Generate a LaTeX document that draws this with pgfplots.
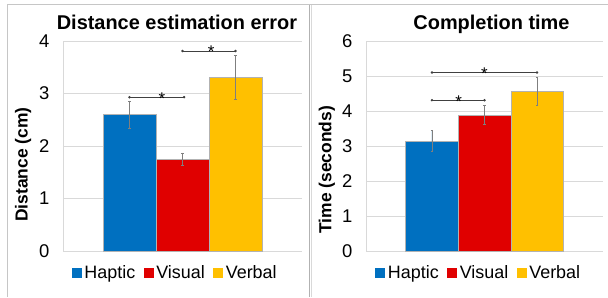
\documentclass[border=0pt]{standalone}
\usepackage{fontspec}
\setmainfont{Liberation Sans}
\usepackage{pgfplots}
\pgfplotsset{compat=1.18}
\definecolor{cblue}{HTML}{0070C0}
\definecolor{cred}{HTML}{E00000}
\definecolor{cyellow}{HTML}{FFC000}
\definecolor{gridc}{HTML}{D9D9D9}
\definecolor{errc}{HTML}{7F7F7F}
\definecolor{brc}{HTML}{404040}
\pgfplotsset{
  mybars/.style={
    scale only axis,
    ybar, bar width=1, bar shift=0pt,
    xmin=-0.255, xmax=4.255, ymin=0,
    xtick=\empty,
    ymajorgrids, grid style={draw=gridc, line width=0.9bp},
    axis x line*=bottom, axis y line*=left,
    axis line style={draw=gridc, line width=0.9bp, -},
    major tick length=0pt,
    /pgf/number format/assume math mode=true,
    yticklabel style={font=\fontsize{18.5}{20}\selectfont, xshift=-10bp},
    clip=false,
    legend columns=3,
    legend style={draw=none, fill=none, font=\fontsize{18}{20}\selectfont,
      anchor=center, inner sep=0pt,
      nodes={inner xsep=2.5bp, inner ysep=1bp},
      /tikz/every even column/.append style={column sep=6bp}},
    legend image code/.code={\draw[##1, draw=none] (0bp,-6bp) rectangle (10bp,4bp);},
    error bars/y dir=both, error bars/y explicit,
    error bars/error bar style={draw=errc, line width=0.6bp},
    error bars/error mark options={rotate=90, mark size=1.2bp, draw=errc, line width=0.6bp},
  },
  bracket/.style={sharp plot, forget plot, draw=brc, line width=0.8bp, mark=*, mark size=0.8bp, mark options={fill=brc, draw=brc}},
}
\begin{document}
\begin{tikzpicture}[x=1bp,y=1bp]
\useasboundingbox (0,0) rectangle (608,297);
% frames
\draw[gray!45, line width=1bp] (7,292) -- (608,292);
\draw[gray!45, line width=1bp] (7,292) -- (7,0);
\draw[gray!60, line width=1.3bp] (309.7,292) -- (309.7,0);
\draw[gray!30, line width=1.3bp] (311.2,292) -- (311.2,0);
% titles
\node[anchor=base, font=\bfseries\fontsize{20}{22}\selectfont] at (177,267.7) {Distance estimation error};
\node[anchor=base, font=\bfseries\fontsize{20}{22}\selectfont] at (491.5,267.7) {Completion time};
\node[anchor=base, rotate=90, font=\bfseries\fontsize{17.5}{19}\selectfont] at (27.5,132.5) {Distance (cm)};
\node[anchor=base, rotate=90, font=\bfseries\fontsize{17.5}{19}\selectfont] at (331.3,127.3) {Time (seconds)};

\begin{axis}[mybars, at={(63bp,46bp)}, anchor=south west, width=239bp, height=210bp,
  ymax=4, ytick={0,1,2,3,4},
  legend style={at={(0.471,-0.102)}}]
\addplot[fill=cblue, draw=gray!60, line width=0.4bp] coordinates {(1,2.60) +- (0,0.26)};
\addplot[fill=cred, draw=gray!60, line width=0.4bp] coordinates {(2,1.75) +- (0,0.12)};
\addplot[fill=cyellow, draw=gray!60, line width=0.4bp] coordinates {(3,3.31) +- (0,0.42)};
\legend{Haptic, Visual, Verbal}
\addplot[bracket] coordinates {(1,2.93) (2.03,2.93)};
\addplot[bracket] coordinates {(2,3.81) (3,3.81)};
\node[anchor=base, yshift=-7bp, font=\fontsize{17}{18}\selectfont] at (axis cs:1.61,2.93) {*};
\node[anchor=base, yshift=-7bp, font=\fontsize{17}{18}\selectfont] at (axis cs:2.54,3.81) {*};
\end{axis}

\begin{axis}[mybars, at={(366bp,46bp)}, anchor=south west, width=237bp, height=210bp,
  ymax=6, ytick={0,1,2,3,4,5,6},
  legend style={at={(0.477,-0.102)}}]
\addplot[fill=cblue, draw=gray!60, line width=0.4bp] coordinates {(1,3.15) +- (0,0.29)};
\addplot[fill=cred, draw=gray!60, line width=0.4bp] coordinates {(2,3.88) +- (0,0.27)};
\addplot[fill=cyellow, draw=gray!60, line width=0.4bp] coordinates {(3,4.56) +- (0,0.41)};
\legend{Haptic, Visual, Verbal}
\addplot[bracket] coordinates {(1,4.31) (2,4.31)};
\addplot[bracket] coordinates {(1,5.10) (3,5.10)};
\node[anchor=base, yshift=-7bp, font=\fontsize{17}{18}\selectfont] at (axis cs:1.51,4.31) {*};
\node[anchor=base, yshift=-7bp, font=\fontsize{17}{18}\selectfont] at (axis cs:2.0,5.10) {*};
\end{axis}
\end{tikzpicture}
\end{document}
